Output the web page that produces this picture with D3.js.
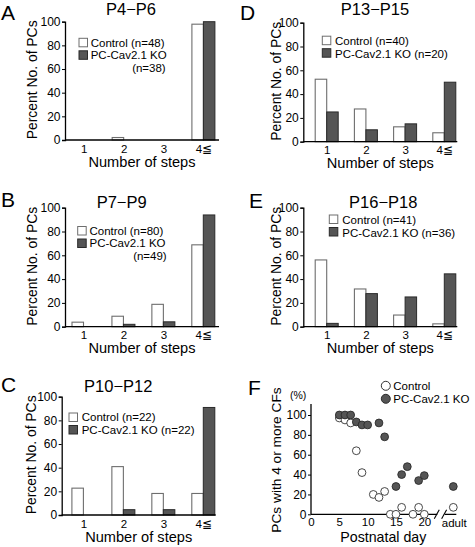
<!DOCTYPE html>
<html><head><meta charset="utf-8">
<script src="https://cdn.jsdelivr.net/npm/d3@7"></script>
<style>
html,body{margin:0;padding:0;background:#fff;}
svg{display:block;font-family:"Liberation Sans",Arial,sans-serif;}
</style></head>
<body><svg id="c" width="475" height="547"></svg>
<script>
// ---------- DATA ----------
const steps = ["1", "2", "3", "4\u2266"];
const panelLetters = ["A", "B", "C", "D", "E"];
const panelTitles = ["P4\u2212P6", "P7\u2212P9", "P10\u2212P12", "P13\u2212P15", "P16\u2212P18"];
const yTicks = [0, 20, 40, 60, 80, 100];

const controlA = [0, 2.1, 0, 97.9];
const koA      = [0, 0, 0, 100];
const controlB = [3.8, 8.8, 18.8, 68.8];
const koB      = [0, 2.0, 4.1, 93.9];
const controlC = [22.7, 40.9, 18.2, 18.2];
const koC      = [0, 4.5, 4.5, 90.9];
const controlD = [52.5, 27.5, 12.5, 7.5];
const koD      = [25, 10, 15, 50];
const controlE = [56.1, 31.7, 9.8, 2.4];
const koE      = [2.8, 27.8, 25, 44.4];

const legendControl = ["Control (n=48)", "Control (n=80)", "Control (n=22)", "Control (n=40)", "Control (n=41)"];
const legendKO      = ["PC-Cav2.1 KO", "PC-Cav2.1 KO", "PC-Cav2.1 KO (n=22)", "PC-Cav2.1 KO (n=20)", "PC-Cav2.1 KO (n=36)"];
const legendKOExtra = ["(n=38)", "(n=49)", null, null, null];

// Panel F
const fDaysControl = [5, 6, 7, 8, 9, 11, 12, 13, 14, 15, 16, 18, 19, 20, "adult"];
const fValsControl = [97, 95, 92, 64, 42, 20, 17, 23, 0, 0, 7, 0, 7, 0, 7];
const fDaysKO = [5, 6, 7, 8, 9, 10, 12, 13, 15, 16, 17, 19, 20, "adult"];
const fValsKO = [100, 100, 100, 93, 90, 90, 92, 78, 28, 40, 48, 34, 39, 28];
const fXTicks = [0, 5, 10, 15, 20];
const fYTicks = [0, 20, 40, 60, 80, 100];

// ---------- LAYOUT ----------
const layout = [
  {ax: 65,    y0: 140,   y100: 21.7,  c0: 18.8, c1: 138.4, tx: 131,   ty: 15,    lx: 1,   ly: 20,  ylab: 33,
   bx: 79,    by: 38.3,  tbx: 90.7,   t1: 46.7,  t2: 58.5, ex: 165.7, ey: 72},
  {ax: 65,    y0: 326.7, y100: 207.7, c0: 18.5, c1: 138.3, tx: 121.7, ty: 208,   lx: 1,   ly: 207, ylab: 33,
   bx: 77.7,  by: 226.5, tbx: 89.5,   t1: 234.5, t2: 246.8, ex: 166.7, ey: 260},
  {ax: 61.7,  y0: 515,   y100: 396.7, c0: 21.7, c1: 141.6, tx: 118.3, ty: 392.3, lx: 1,   ly: 392, ylab: 30.4,
   bx: 69,    by: 413,   tbx: 81.7,   t1: 420.8, t2: 434},
  {ax: 303.3, y0: 141.7, y100: 22.7,  c0: 23.4, c1: 141,   tx: 375,   ty: 15,    lx: 240, ly: 20,  ylab: 27,
   bx: 322.3, by: 36.2,  tbx: 335,    t1: 45,    t2: 57.7},
  {ax: 303.3, y0: 326.7, y100: 207.7, c0: 23.4, c1: 141,   tx: 383.3, ty: 208.3, lx: 249, ly: 208, ylab: 27,
   bx: 329.3, by: 215,   tbx: 342.3,  t1: 223.5, t2: 236.8}
];
const controlSets = [controlA, controlB, controlC, controlD, controlE];
const koSets = [koA, koB, koC, koD, koE];

const svg = d3.select("#c");
const KO_FILL = "#555", KO_STROKE = "#2a2a2a", CT_STROKE = "#6e6e6e";

layout.forEach((L, i) => {
  const g = svg.append("g");
  const y = d3.scaleLinear().domain([0, 100]).range([L.y0, L.y100]);
  const x = d3.scalePoint().domain(steps).range([L.ax + L.c0, L.ax + L.c1]);
  const bw = 11.5;

  // bars
  steps.forEach((s, k) => {
    const c = controlSets[i][k], v = koSets[i][k];
    if (c > 0) g.append("rect").attr("x", x(s) - bw).attr("y", y(c)).attr("width", bw)
      .attr("height", y(0) - y(c)).attr("fill", "#fff").attr("stroke", CT_STROKE).attr("stroke-width", 1.1);
    if (v > 0) g.append("rect").attr("x", x(s)).attr("y", y(v)).attr("width", bw)
      .attr("height", y(0) - y(v)).attr("fill", KO_FILL).attr("stroke", KO_STROKE).attr("stroke-width", 1);
  });

  // y axis
  const yAx = g.append("g").attr("transform", `translate(${L.ax},0)`)
    .call(d3.axisLeft(y).tickValues(yTicks).tickSize(3).tickPadding(1.5));
  yAx.select(".domain").attr("stroke-width", 1.3);
  yAx.selectAll("text").attr("font-size", 12).attr("font-family", "Liberation Sans, Arial, sans-serif");

  // x axis
  const xAx = g.append("g").attr("transform", `translate(0,${L.y0})`)
    .call(d3.axisBottom(x).tickSize(0).tickPadding(4.5));
  xAx.select(".domain").attr("d", `M${L.ax},0H${L.ax + 154}`).attr("stroke-width", 1.3);
  xAx.selectAll("text").attr("font-size", 11.5).attr("font-family", "Liberation Sans, Arial, sans-serif");

  // labels
  g.append("text").attr("x", L.ax + 77).attr("y", L.y0 + 26.7).attr("text-anchor", "middle")
    .attr("font-size", 14.6).text("Number of steps");
  g.append("text").attr("transform", `translate(${L.ax - L.ylab},${(L.y0 + L.y100) / 2 - 1}) rotate(-90)`)
    .attr("text-anchor", "middle").attr("dy", "0.35em").attr("font-size", 13.9).text("Percent No. of PCs");
  g.append("text").attr("x", L.tx).attr("y", L.ty).attr("text-anchor", "middle")
    .attr("font-size", 16.5).text(panelTitles[i]);
  g.append("text").attr("x", L.lx).attr("y", L.ly).attr("font-size", 21).text(panelLetters[i]);

  // legend
  g.append("rect").attr("x", L.bx).attr("y", L.by).attr("width", 8.5).attr("height", 8.5)
    .attr("fill", "#fff").attr("stroke", CT_STROKE);
  g.append("rect").attr("x", L.bx).attr("y", L.by + 12.5).attr("width", 8.5).attr("height", 8.5)
    .attr("fill", KO_FILL).attr("stroke", KO_STROKE);
  g.append("text").attr("x", L.tbx).attr("y", L.t1).attr("font-size", 11.5).text(legendControl[i]);
  g.append("text").attr("x", L.tbx).attr("y", L.t2).attr("font-size", 11.5).text(legendKO[i]);
  if (legendKOExtra[i]) g.append("text").attr("x", L.ex).attr("y", L.ey).attr("text-anchor", "end")
    .attr("font-size", 11.5).text(legendKOExtra[i]);
});

// ---------- PANEL F ----------
(function () {
  const ax = 311, y0 = 514.3;
  const adultPos = 25.12;
  const fx = d3.scaleLinear().domain([0, 20]).range([ax, 424.3]);
  const fy = d3.scaleLinear().domain([0, 100]).range([y0, 415]);
  const px = d => d === "adult" ? fx(adultPos) : fx(d);
  const g = svg.append("g");

  // y axis
  const yAx = g.append("g").attr("transform", `translate(${ax},0)`)
    .call(d3.axisLeft(fy).tickValues(fYTicks).tickSize(3).tickPadding(1.5));
  yAx.select(".domain").attr("d", `M0,${fy(0)}V${fy(111)}`).attr("stroke-width", 1.3);
  yAx.selectAll("text").attr("font-size", 12).attr("font-family", "Liberation Sans, Arial, sans-serif");

  // x axis with break
  const xAx = g.append("g").attr("transform", `translate(0,${y0})`)
    .call(d3.axisBottom(fx).tickValues(fXTicks).tickSize(0).tickPadding(4));
  xAx.select(".domain").attr("d", `M${ax},0H${fx(22.3)}M${fx(23.6)},0H${fx(adultPos) + 3}`).attr("stroke-width", 1.3);
  xAx.selectAll("text").attr("font-size", 11.5).attr("font-family", "Liberation Sans, Arial, sans-serif");
  [22.2, 23.5].forEach(b => {
    g.append("line").attr("x1", fx(b) - 2.5).attr("y1", y0 + 4.5).attr("x2", fx(b) + 2.5).attr("y2", y0 - 4.5)
      .attr("stroke", "#000").attr("stroke-width", 1.1);
  });
  g.append("text").attr("x", fx(adultPos) + 1).attr("y", y0 + 12.5).attr("text-anchor", "middle")
    .attr("font-size", 11.5).text("adult");

  // points
  g.selectAll("circle.ctl").data(fDaysControl.map((d, k) => [d, fValsControl[k]])).enter()
    .append("circle").attr("class", "ctl").attr("cx", d => px(d[0])).attr("cy", d => fy(d[1]))
    .attr("r", 3.9).attr("fill", "#fff").attr("stroke", "#333").attr("stroke-width", 0.9);
  g.selectAll("circle.ko").data(fDaysKO.map((d, k) => [d, fValsKO[k]])).enter()
    .append("circle").attr("class", "ko").attr("cx", d => px(d[0])).attr("cy", d => fy(d[1]))
    .attr("r", 3.9).attr("fill", KO_FILL).attr("stroke", KO_STROKE).attr("stroke-width", 0.9);

  // labels
  g.append("text").attr("x", 383.3).attr("y", 541.5).attr("text-anchor", "middle").attr("font-size", 14.2).text("Postnatal day");
  g.append("text").attr("transform", `translate(${ax - 34.3},${460}) rotate(-90)`).attr("text-anchor", "middle")
    .attr("dy", "0.35em").attr("font-size", 13.7).text("PCs with 4 or more CFs");
  g.append("text").attr("x", 290).attr("y", 398.5).attr("font-size", 10.5).text("(%)");
  g.append("text").attr("x", 248).attr("y", 395).attr("font-size", 21).text("F");

  // legend
  g.append("circle").attr("cx", 385.8).attr("cy", 385.8).attr("r", 4.5).attr("fill", "#fff").attr("stroke", "#333");
  g.append("circle").attr("cx", 385.8).attr("cy", 398.8).attr("r", 4.5).attr("fill", KO_FILL).attr("stroke", KO_STROKE);
  g.append("text").attr("x", 393.3).attr("y", 389.8).attr("font-size", 11.5).text("Control");
  g.append("text").attr("x", 393.3).attr("y", 402.9).attr("font-size", 11.5).text("PC-Cav2.1 KO");
})();
</script></body></html>
